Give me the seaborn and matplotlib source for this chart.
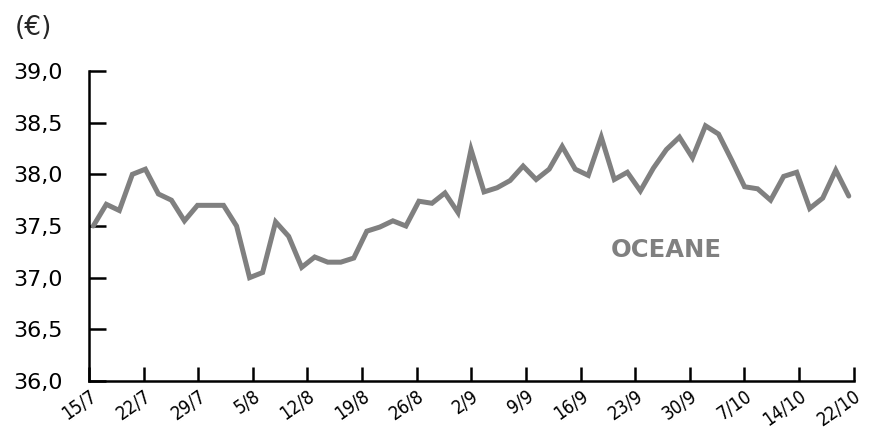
import numpy as np
import pandas as pd
import matplotlib
matplotlib.use("Agg")
import matplotlib.pyplot as plt
import seaborn as sns

# share price (EUR), one value per session
prices = [37.50, 37.71, 37.65, 38.00, 38.05, 37.81, 37.75, 37.55, 37.70, 37.70,
          37.70, 37.50, 37.00, 37.05, 37.54, 37.40, 37.10, 37.20, 37.15, 37.15,
          37.19, 37.45, 37.49, 37.55, 37.50, 37.74, 37.72, 37.82, 37.63, 38.24,
          37.83, 37.87, 37.94, 38.08, 37.95, 38.05, 38.27, 38.05, 37.99, 38.36,
          37.95, 38.02, 37.84, 38.06, 38.24, 38.36, 38.16, 38.47, 38.39, 38.14,
          37.88, 37.86, 37.75, 37.98, 38.02, 37.67, 37.77, 38.04, 37.79]
date_labels = ["15/7", "22/7", "29/7", "5/8", "12/8", "19/8", "26/8", "2/9",
               "9/9", "16/9", "23/9", "30/9", "7/10", "14/10", "22/10"]
y_ticks = [36.0, 36.5, 37.0, 37.5, 38.0, 38.5, 39.0]

df = pd.DataFrame({"session": np.arange(len(prices)), "price": prices})

sns.set_style("ticks")
plt.rcParams["font.family"] = ["DejaVu Sans"]

fig = plt.figure(figsize=(8.74, 4.28), dpi=100)
ax = fig.add_axes([0.1018, 0.1098, 0.875, 0.7243])

sns.lineplot(data=df, x="session", y="price", ax=ax, color="#808080",
             linewidth=3.6, solid_joinstyle="miter")

xlim = (-0.33, 58.38)
ax.set_xlim(*xlim)
ax.set_ylim(36.0, 39.0)
ax.set_xticks(np.linspace(xlim[0], xlim[1], len(date_labels)))
ax.set_xticklabels(date_labels, rotation=35, ha="right", va="top",
                   rotation_mode="anchor", fontsize=13.4, fontstretch="condensed")
ax.set_yticks(y_ticks)
ax.set_yticklabels([f"{v:.1f}".replace(".", ",") for v in y_ticks], fontsize=16)
ax.set_xlabel("")
ax.set_ylabel("")

for side in ["top", "right"]:
    ax.spines[side].set_visible(False)
for side in ["left", "bottom"]:
    ax.spines[side].set_color("black")
    ax.spines[side].set_linewidth(1.8)

ax.tick_params(axis="y", direction="in", length=12.5, width=1.8, pad=19, colors="black")
ax.tick_params(axis="x", direction="in", length=10, width=1.8, pad=4, colors="black")

ax.text(44.0, 37.27, "OCEANE", ha="center", va="center", fontsize=17.5,
        fontweight="bold", color="#808080")
fig.text(0.017, 0.935, "(€)", ha="left", va="center", fontsize=19)

fig.savefig("out.png", dpi=100)
